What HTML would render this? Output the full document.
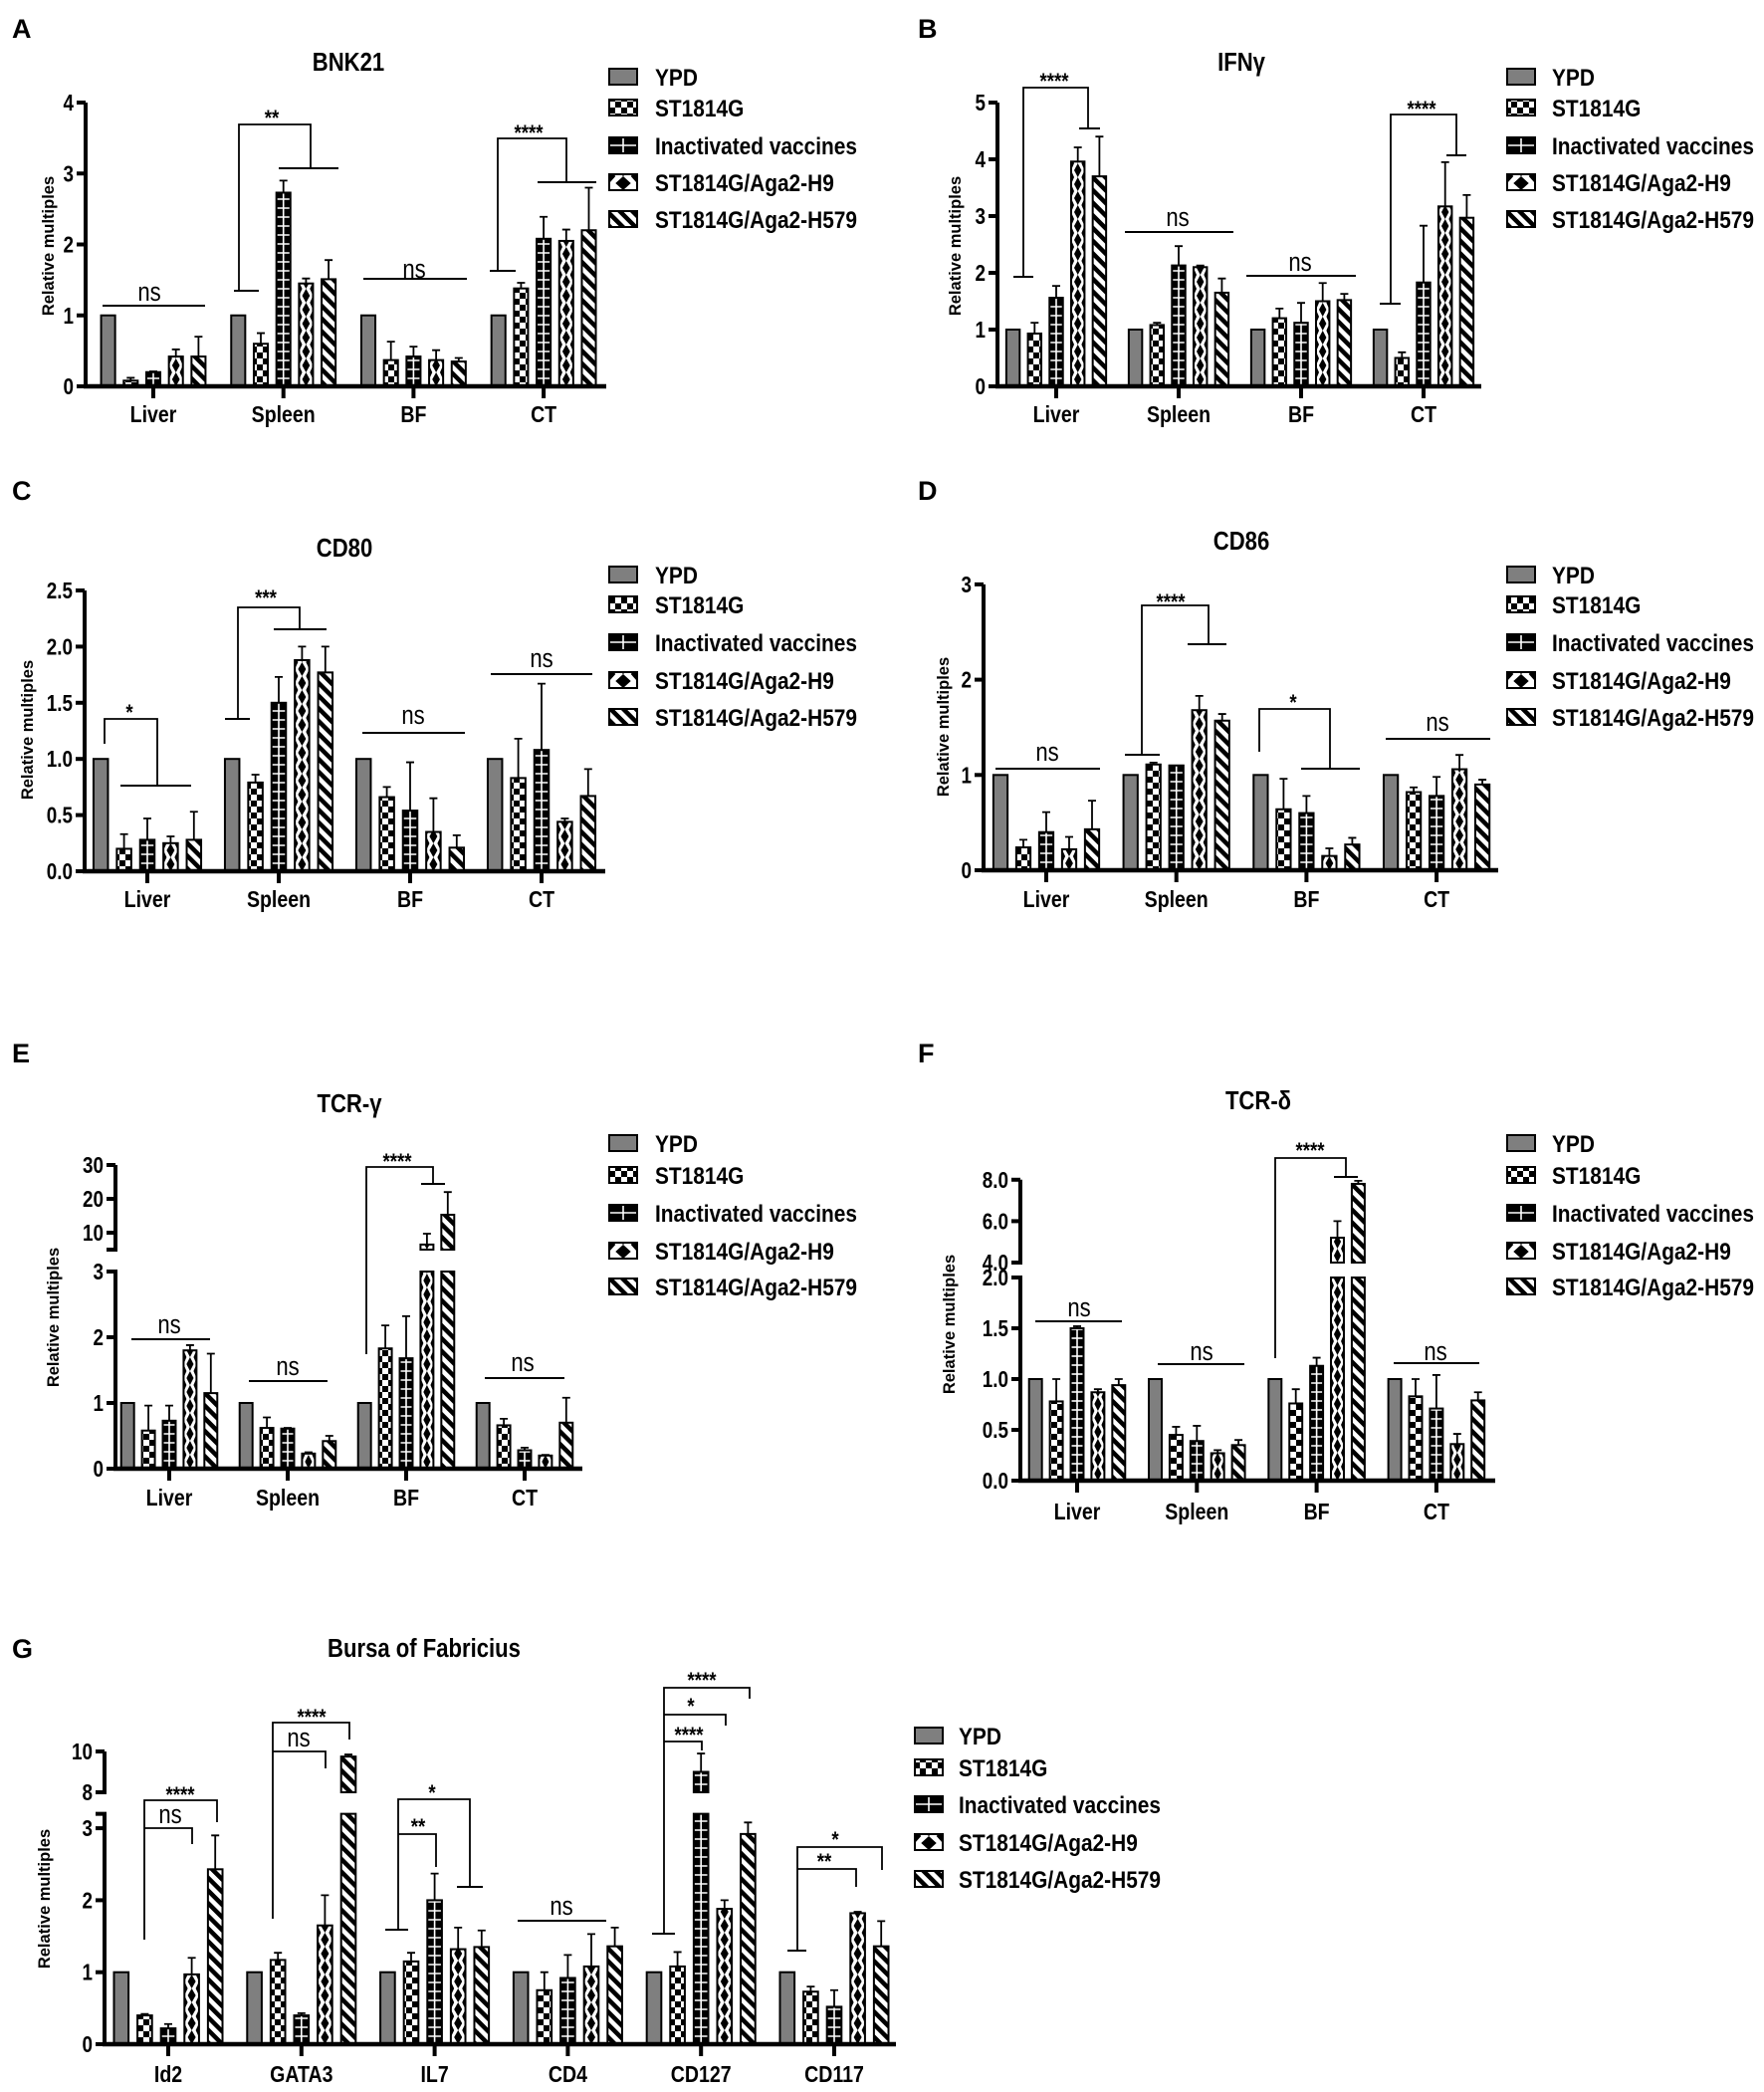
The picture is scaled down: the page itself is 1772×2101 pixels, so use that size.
<!DOCTYPE html>
<html><head><meta charset="utf-8"><title>Relative expression figure</title>
<style>
html,body{margin:0;padding:0;background:#fff;}
svg{display:block;font-family:"Liberation Sans",Arial,sans-serif;}
</style></head>
<body>
<svg id="fig" xmlns="http://www.w3.org/2000/svg" width="1772" height="2101" viewBox="0 0 1772 2101">
<defs>
<pattern id="pat-check" patternUnits="userSpaceOnUse" width="12" height="12"><rect width="12" height="12" fill="#fff"/><rect width="6" height="6" fill="#000"/><rect x="6" y="6" width="6" height="6" fill="#000"/></pattern>
<pattern id="pat-stripe" patternUnits="userSpaceOnUse" width="9" height="9" patternTransform="rotate(-45)"><rect width="9" height="9" fill="#fff"/><rect width="4.5" height="9" fill="#000"/></pattern>
</defs>
</svg>
<script>
const seriesNames = ['YPD','ST1814G','Inactivated vaccines','ST1814G/Aga2-H9','ST1814G/Aga2-H579'];
const organCats = ['Liver','Spleen','BF','CT'];

// Panel A: BNK21
const aMeans = [[1,1,1,1],[0.08,0.6,0.37,1.38],[0.2,2.73,0.42,2.08],[0.42,1.45,0.37,2.05],[0.42,1.51,0.35,2.2]];
const aErrTop = [[1,1,1,1],[0.12,0.75,0.63,1.46],[0.21,2.9,0.56,2.39],[0.52,1.52,0.51,2.21],[0.7,1.78,0.4,2.8]];
const aTicks = [0,1,2,3,4];
// Panel B: IFNy
const bMeans = [[1,1,1,1],[0.93,1.08,1.2,0.5],[1.56,2.13,1.12,1.83],[3.96,2.1,1.5,3.17],[3.7,1.65,1.52,2.97]];
const bErrTop = [[1,1,1,1],[1.12,1.12,1.37,0.6],[1.77,2.47,1.47,2.83],[4.21,2.13,1.82,3.95],[4.4,1.9,1.63,3.37]];
const bTicks = [0,1,2,3,4,5];
// Panel C: CD80
const cMeans = [[1,1,1,1],[0.2,0.79,0.66,0.83],[0.28,1.5,0.54,1.08],[0.25,1.88,0.35,0.44],[0.28,1.77,0.21,0.67]];
const cErrTop = [[1,1,1,1],[0.33,0.86,0.75,1.18],[0.47,1.73,0.97,1.67],[0.31,2.0,0.65,0.47],[0.53,2.0,0.32,0.91]];
const cTicks = [0,0.5,1,1.5,2,2.5];
// Panel D: CD86
const dMeans = [[1,1,1,1],[0.24,1.11,0.64,0.82],[0.4,1.1,0.6,0.78],[0.22,1.68,0.15,1.06],[0.43,1.57,0.27,0.9]];
const dErrTop = [[1,1,1,1],[0.32,1.13,0.96,0.87],[0.61,1.1,0.78,0.98],[0.35,1.83,0.23,1.21],[0.73,1.64,0.34,0.95]];
const dTicks = [0,1,2,3];
// Panel E: TCR-gamma
const eMeans = [[1,1,1,1],[0.58,0.62,1.83,0.66],[0.73,0.61,1.68,0.28],[1.8,0.23,6.5,0.2],[1.15,0.42,15.3,0.7]];
const eErrTop = [[1,1,1,1],[0.96,0.78,2.18,0.76],[0.96,0.62,2.32,0.32],[1.88,0.25,9.7,0.21],[1.75,0.5,22,1.08]];
const eTicksLow = [0,1,2,3];
const eTicksUp = [10,20,30];
// Panel F: TCR-delta
const fMeans = [[1,1,1,1],[0.78,0.45,0.76,0.83],[1.5,0.39,1.13,0.71],[0.87,0.27,5.2,0.36],[0.94,0.35,7.8,0.79]];
const fErrTop = [[1,1,1,1],[1.0,0.53,0.9,1.0],[1.52,0.54,1.21,1.04],[0.9,0.3,6.0,0.46],[1.0,0.4,7.95,0.87]];
const fTicksLow = [0,0.5,1,1.5,2];
const fTicksUp = [4,6,8];
// Panel G: Bursa of Fabricius
const gCats = ['Id2','GATA3','IL7','CD4','CD127','CD117'];
const gMeans = [[1,1,1,1,1,1],[0.4,1.17,1.15,0.75,1.08,0.73],[0.22,0.4,2.0,0.92,9.0,0.52],[0.97,1.65,1.32,1.08,1.88,1.82],[2.43,9.75,1.35,1.36,2.92,1.36]];
const gErrTop = [[1,1,1,1,1,1],[0.42,1.27,1.27,1.0,1.28,0.8],[0.28,0.43,2.37,1.24,9.9,0.75],[1.2,2.07,1.62,1.53,2.0,1.84],[2.9,9.85,1.58,1.62,3.08,1.71]];
const gTicksLow = [0,1,2,3];
const gTicksUp = [8,10];

const NS = 'http://www.w3.org/2000/svg';
const svg = document.getElementById('fig');
let clipId = 0;
function mk(tag, attrs, parent) {
  const el = document.createElementNS(NS, tag);
  for (const k in attrs) el.setAttribute(k, attrs[k]);
  (parent || svg).appendChild(el);
  return el;
}
function txt(s, x, y, size, weight, anchor, parent) {
  const t = mk('text', {x: x, y: y, 'font-size': size, 'font-weight': weight, 'text-anchor': anchor, fill: '#000'}, parent);
  t.textContent = s;
  return t;
}
function ctxt(s, x, y, size, weight, anchor, sx, parent) {
  const t = mk('text', {x: 0, y: 0, 'font-size': size, 'font-weight': weight, 'text-anchor': anchor, fill: '#000', transform: 'translate(' + x + ',' + y + ') scale(' + sx + ',1)'}, parent);
  t.textContent = s;
  return t;
}

function fillRect(g, x, y, w, h, s) {
  const r = mk('rect', {x: x, y: y, width: w, height: Math.max(h, 0.5)}, g);
  if (s === 0) r.setAttribute('fill', '#7f7f7f');
  else if (s === 1) r.setAttribute('fill', 'url(#pat-check)');
  else if (s === 4) r.setAttribute('fill', 'url(#pat-stripe)');
  else if (s === 2) r.setAttribute('fill', '#000');
  else r.setAttribute('fill', '#fff');
  if (s === 2 || s === 3) {
    clipId++;
    const cp = mk('clipPath', {id: 'cp' + clipId}, g);
    mk('rect', {x: x, y: y, width: w, height: h}, cp);
    const dg = mk('g', {'clip-path': 'url(#cp' + clipId + ')'}, g);
    const cx = x + w / 2;
    if (s === 2) {
      mk('line', {x1: cx, y1: y, x2: cx, y2: y + h, stroke: '#fff', 'stroke-width': 1.6}, dg);
      for (let yy = y + h - 8; yy > y; yy -= 9) {
        mk('line', {x1: x, y1: yy, x2: x + w, y2: yy, stroke: '#fff', 'stroke-width': 1.6}, dg);
      }
    } else {
      const hw = w / 2, hh = 7;
      for (let yy = y + h - 7; yy > y - 14; yy -= 14) {
        mk('polygon', {points: (cx) + ',' + (yy - hh) + ' ' + (cx + hw * 0.55) + ',' + yy + ' ' + cx + ',' + (yy + hh) + ' ' + (cx - hw * 0.55) + ',' + yy, fill: '#000'}, dg);
        const y2 = yy - 7;
        mk('polygon', {points: x + ',' + (y2 - hh) + ' ' + (x + hw * 0.45) + ',' + y2 + ' ' + x + ',' + (y2 + hh), fill: '#000'}, dg);
        mk('polygon', {points: (x + w) + ',' + (y2 - hh) + ' ' + (x + w - hw * 0.45) + ',' + y2 + ' ' + (x + w) + ',' + (y2 + hh), fill: '#000'}, dg);
      }
    }
  }
  mk('rect', {x: x, y: y, width: w, height: h, fill: 'none', stroke: '#000', 'stroke-width': 2}, g);
}

function drawPanel(c) {
  const g = mk('g', {});
  
  
  const yS = v => (v <= c.lowMax || c.upMin === undefined) ? c.y0 - v * c.unit : c.upY0 - (v - c.upMin) * c.upUnit;
  const xS = (gi, si) => c.gx0 + gi * c.step + (si - 2) * c.pitch;

  const letter = txt(c.letter, c.lx, c.ly + 10, 27, 'bold', 'start', g);
  
  
  const title = ctxt(c.title, c.tx, c.ty + 9, 26, 'bold', 'middle', 0.85, g);
  
  
  const yt = txt('Relative multiples', 0, 0, 16.5, 'bold', 'middle', g);
  yt.setAttribute('transform', 'translate(' + c.ytx + ',' + c.yty + ') rotate(-90)');
  yt.setAttribute('dominant-baseline', 'central');
  
  

  const bw = c.pitch * 0.62;
  for (let s = 0; s < 5; s++) {
    for (let gi = 0; gi < c.cats.length; gi++) {
      const v = c.means[s][gi];
      const cx = xS(gi, s);
      const bg = mk('g', {}, g);
      
      
      if (c.upMin !== undefined && v > c.lowMax) {
        fillRect(bg, cx - bw / 2, yS(c.lowMax), bw, c.y0 - yS(c.lowMax), s);
        fillRect(bg, cx - bw / 2, yS(v), bw, c.upY0 - yS(v), s);
      } else {
        fillRect(bg, cx - bw / 2, yS(v), bw, c.y0 - yS(v), s);
      }
      const et = c.errTop[s][gi];
      if (s > 0 && et > v) {
        const eb = mk('path', {d: 'M' + cx + ',' + yS(v) + 'V' + yS(et) + 'M' + (cx - 4) + ',' + yS(et) + 'H' + (cx + 4), stroke: '#000', 'stroke-width': 1.8, fill: 'none'}, g);
        
        
      }
    }
  }

  const yTop = c.upMin === undefined ? yS(c.ticks[c.ticks.length - 1]) : yS(c.lowMax);
  const ya = mk('line', {x1: c.x0, y1: c.y0 + 2, x2: c.x0, y2: yTop, stroke: '#000', 'stroke-width': 4}, g);
  
  
  if (c.upMin !== undefined) {
    const yu = mk('line', {x1: c.x0, y1: c.upY0, x2: c.x0, y2: yS(c.ticksUp[c.ticksUp.length - 1]), stroke: '#000', 'stroke-width': 4}, g);
    
    
    const capL = mk('line', {x1: c.x0 - 9, y1: yS(c.lowMax), x2: c.x0 + 2, y2: yS(c.lowMax), stroke: '#000', 'stroke-width': 4}, g);
    
    
    const capU = mk('line', {x1: c.x0 - 9, y1: c.upY0, x2: c.x0 + 2, y2: c.upY0, stroke: '#000', 'stroke-width': 4}, g);
    
    
  }
  const allTicks = c.ticks.concat(c.ticksUp || []);
  allTicks.forEach(tv => {
    const ty = yS(tv);
    const tk = mk('line', {x1: c.x0 - 9, y1: ty, x2: c.x0, y2: ty, stroke: '#000', 'stroke-width': 4}, g);
    
    
    const tl = ctxt(c.fmt(tv), c.x0 - 12, ty + 8, 23, 'bold', 'end', 0.82, g);
    
    
  });
  const xa = mk('line', {x1: c.x0 - 2, y1: c.y0, x2: c.xEnd, y2: c.y0, stroke: '#000', 'stroke-width': 4.5}, g);
  
  
  c.cats.forEach((cat, gi) => {
    const cx = xS(gi, 2);
    const tk = mk('line', {x1: cx, y1: c.y0, x2: cx, y2: c.y0 + 12, stroke: '#000', 'stroke-width': 4}, g);
    
    
    const cl = ctxt(cat, cx, c.catY + 9, 23, 'bold', 'middle', 0.85, g);
    
    
  });

  const lg = mk('g', {}, g);
  
  
  seriesNames.forEach((nm, s) => {
    const ry = c.legRows[s];
    const le = mk('g', {}, lg);
    
    
    fillRect(le, c.legX, ry - 8, 28, 16, s);
    ctxt(nm, c.legTX, ry + 9, 24, 'bold', 'start', 0.87, le);
  });

  c.ann.forEach(a => {
    const ag = mk('g', {}, g);
    
    
    if (a.k === 'ns') {
      mk('line', {x1: a.x1, y1: a.y, x2: a.x2, y2: a.y, stroke: '#000', 'stroke-width': 2}, ag);
    } else {
      mk('path', {d: 'M' + a.lx + ',' + a.lyb + 'V' + a.top + 'H' + a.rx + 'V' + a.ryb, stroke: '#000', 'stroke-width': 1.8, fill: 'none'}, ag);
      if (a.hl) mk('line', {x1: a.hl[0], y1: a.ryb, x2: a.hl[1], y2: a.ryb, stroke: '#000', 'stroke-width': 2}, ag);
      if (a.tk) mk('line', {x1: a.tk[0], y1: a.lyb, x2: a.tk[1], y2: a.lyb, stroke: '#000', 'stroke-width': 2}, ag);
    }
    const isNs = a.t === 'ns';
    ctxt(a.t, a.tx, a.ty + (isNs ? 9 : 11), isNs ? 26 : 22, isNs ? 'normal' : 'bold', 'middle', 0.85, ag);
  });
}

const fmtInt = v => String(v);
const fmt1 = v => v.toFixed(1);
const rowsTop = [77, 108, 146, 183, 220];
const rowsMid = [577, 607, 645, 683, 720];
const rowsE = [1148, 1180, 1218, 1256, 1292];

drawPanel({name:'bnk21', letter:'A', lx:12, ly:28, title:'BNK21', tx:350, ty:62, ytx:49, yty:247,
  x0:86, xEnd:609, y0:388, unit:71.25, gx0:154, step:130.7, pitch:22.7, catY:415,
  cats:organCats, means:aMeans, errTop:aErrTop, ticks:aTicks, fmt:fmtInt,
  legX:612, legTX:658, legRows:rowsTop,
  ann:[
    {k:'ns', x1:103, x2:206, y:307, t:'ns', tx:150, ty:293},
    {k:'br', lx:240, lyb:292, top:125, rx:312, ryb:169, hl:[280,340], tk:[235,260], t:'**', tx:273, ty:115},
    {k:'ns', x1:365, x2:469, y:280, t:'ns', tx:416, ty:270},
    {k:'br', lx:500, lyb:272, top:139, rx:569, ryb:183, hl:[540,599], tk:[492,518], t:'****', tx:531, ty:130}
  ]});

drawPanel({name:'ifng', letter:'B', lx:922, ly:28, title:'IFN\u03b3', tx:1247, ty:62, ytx:960, yty:247,
  x0:1002, xEnd:1488, y0:388, unit:57, gx0:1061, step:123, pitch:21.7, catY:415,
  cats:organCats, means:bMeans, errTop:bErrTop, ticks:bTicks, fmt:fmtInt,
  legX:1514, legTX:1559, legRows:rowsTop,
  ann:[
    {k:'br', lx:1028, lyb:278, top:88, rx:1093, ryb:129, hl:[1084,1105], tk:[1018,1038], t:'****', tx:1059, ty:78},
    {k:'ns', x1:1130, x2:1239, y:233, t:'ns', tx:1183, ty:218},
    {k:'ns', x1:1252, x2:1362, y:277, t:'ns', tx:1306, ty:263},
    {k:'br', lx:1397, lyb:305, top:115, rx:1463, ryb:156, hl:[1453,1473], tk:[1386,1407], t:'****', tx:1428, ty:106}
  ]});

drawPanel({name:'cd80', letter:'C', lx:12, ly:492, title:'CD80', tx:346, ty:550, ytx:28, yty:733,
  x0:85, xEnd:608, y0:875, unit:112.8, gx0:148, step:132, pitch:23.4, catY:902,
  cats:organCats, means:cMeans, errTop:cErrTop, ticks:cTicks, fmt:fmt1,
  legX:612, legTX:658, legRows:rowsMid,
  ann:[
    {k:'br', lx:105, lyb:747, top:722, rx:158, ryb:789, hl:[121,192], t:'*', tx:130, ty:712},
    {k:'br', lx:239, lyb:722, top:610, rx:301, ryb:632, hl:[275,328], tk:[226,251], t:'***', tx:267, ty:597},
    {k:'ns', x1:364, x2:467, y:736, t:'ns', tx:415, ty:718},
    {k:'ns', x1:493, x2:595, y:677, t:'ns', tx:544, ty:661}
  ]});

drawPanel({name:'cd86', letter:'D', lx:922, ly:492, title:'CD86', tx:1247, ty:543, ytx:948, yty:730,
  x0:988, xEnd:1505, y0:874, unit:95.7, gx0:1051, step:130.7, pitch:23, catY:902,
  cats:organCats, means:dMeans, errTop:dErrTop, ticks:dTicks, fmt:fmtInt,
  legX:1514, legTX:1559, legRows:rowsMid,
  ann:[
    {k:'ns', x1:1000, x2:1105, y:772, t:'ns', tx:1052, ty:755},
    {k:'br', lx:1147, lyb:758, top:608, rx:1214, ryb:647, hl:[1193,1232], tk:[1130,1165], t:'****', tx:1176, ty:601},
    {k:'br', lx:1265, lyb:755, top:712, rx:1336, ryb:772, hl:[1307,1366], t:'*', tx:1299, ty:702},
    {k:'ns', x1:1392, x2:1497, y:742, t:'ns', tx:1444, ty:725}
  ]});

drawPanel({name:'tcr-gamma', letter:'E', lx:12, ly:1057, title:'TCR-\u03b3', tx:351, ty:1108, ytx:54, yty:1323,
  x0:116, xEnd:585, y0:1475, unit:66, lowMax:3, upMin:5, upY0:1255, upUnit:3.4, gx0:170, step:119, pitch:20.9, catY:1503,
  cats:organCats, means:eMeans, errTop:eErrTop, ticks:eTicksLow, ticksUp:eTicksUp, fmt:fmtInt,
  legX:612, legTX:658, legRows:rowsE,
  ann:[
    {k:'ns', x1:132, x2:211, y:1345, t:'ns', tx:170, ty:1330},
    {k:'ns', x1:250, x2:329, y:1387, t:'ns', tx:289, ty:1372},
    {k:'br', lx:368, lyb:1360, top:1172, rx:435, ryb:1189, hl:[423,447], t:'****', tx:399, ty:1163},
    {k:'ns', x1:487, x2:567, y:1384, t:'ns', tx:525, ty:1368}
  ]});

drawPanel({name:'tcr-delta', letter:'F', lx:922, ly:1057, title:'TCR-\u03b4', tx:1264, ty:1105, ytx:954, yty:1330,
  x0:1025, xEnd:1502, y0:1487, unit:102, lowMax:2, upMin:4, upY0:1268, upUnit:20.8, gx0:1082, step:120.3, pitch:20.9, catY:1517,
  cats:organCats, means:fMeans, errTop:fErrTop, ticks:fTicksLow, ticksUp:fTicksUp, fmt:fmt1,
  legX:1514, legTX:1559, legRows:rowsE,
  ann:[
    {k:'ns', x1:1040, x2:1127, y:1327, t:'ns', tx:1084, ty:1313},
    {k:'ns', x1:1163, x2:1250, y:1370, t:'ns', tx:1207, ty:1357},
    {k:'br', lx:1281, lyb:1364, top:1163, rx:1352, ryb:1182, hl:[1340,1364], t:'****', tx:1316, ty:1152},
    {k:'ns', x1:1400, x2:1486, y:1369, t:'ns', tx:1442, ty:1357}
  ]});

drawPanel({name:'bursa', letter:'G', lx:12, ly:1655, title:'Bursa of Fabricius', tx:426, ty:1655, ytx:45, yty:1907,
  x0:105, xEnd:900, y0:2053, unit:72.3, lowMax:3.2, upMin:8, upY0:1800, upUnit:20.5, gx0:169, step:133.8, pitch:23.6, catY:2082,
  cats:gCats, means:gMeans, errTop:gErrTop, ticks:gTicksLow, ticksUp:gTicksUp, fmt:fmtInt,
  legX:919, legTX:963, legRows:[1743,1775,1812,1850,1887],
  ann:[
    {k:'br', lx:145, lyb:1948, top:1808, rx:218, ryb:1830, t:'****', tx:181, ty:1799},
    {k:'br', lx:145, lyb:1836, top:1836, rx:193, ryb:1852, t:'ns', tx:171, ty:1822},
    {k:'br', lx:274, lyb:1927, top:1730, rx:351, ryb:1747, t:'****', tx:313, ty:1721},
    {k:'br', lx:274, lyb:1759, top:1759, rx:327, ryb:1776, t:'ns', tx:300, ty:1745},
    {k:'br', lx:400, lyb:1938, top:1807, rx:472, ryb:1895, hl:[459,485], tk:[387,410], t:'*', tx:434, ty:1797},
    {k:'br', lx:400, lyb:1842, top:1842, rx:438, ryb:1875, t:'**', tx:420, ty:1831},
    {k:'ns', x1:520, x2:609, y:1929, t:'ns', tx:564, ty:1914},
    {k:'br', lx:667, lyb:1942, top:1695, rx:753, ryb:1706, tk:[655,678], t:'****', tx:705, ty:1684},
    {k:'br', lx:667, lyb:1722, top:1722, rx:729, ryb:1733, t:'*', tx:694, ty:1710},
    {k:'br', lx:667, lyb:1749, top:1749, rx:705, ryb:1758, t:'****', tx:692, ty:1739},
    {k:'br', lx:801, lyb:1959, top:1855, rx:886, ryb:1878, tk:[791,810], t:'*', tx:839, ty:1844},
    {k:'br', lx:801, lyb:1877, top:1877, rx:860, ryb:1895, t:'**', tx:828, ty:1866}
  ]});
</script>
</body></html>
